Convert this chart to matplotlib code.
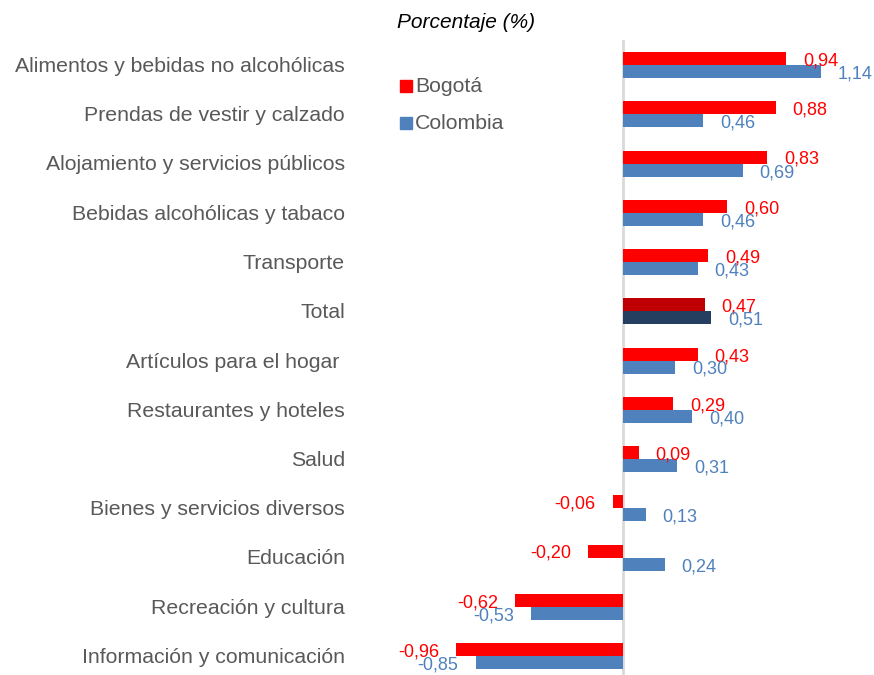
import matplotlib
matplotlib.use("Agg")
import matplotlib.pyplot as plt
from matplotlib.patches import Rectangle

plt.rcParams['font.family'] = ['Liberation Sans', 'DejaVu Sans']

categories = [
    "Alimentos y bebidas no alcohólicas",
    "Prendas de vestir y calzado",
    "Alojamiento y servicios públicos",
    "Bebidas alcohólicas y tabaco",
    "Transporte",
    "Total",
    "Artículos para el hogar ",
    "Restaurantes y hoteles",
    "Salud",
    "Bienes y servicios diversos",
    "Educación",
    "Recreación y cultura",
    "Información y comunicación",
]
bogota = [0.94, 0.88, 0.83, 0.60, 0.49, 0.47, 0.43, 0.29, 0.09, -0.06, -0.20, -0.62, -0.96]
colombia = [1.14, 0.46, 0.69, 0.46, 0.43, 0.51, 0.30, 0.40, 0.31, 0.13, 0.24, -0.53, -0.85]
series_names = ["Bogotá", "Colombia"]

RED = "#FF0000"
BLUE = "#4F81BD"
DARK_RED = "#C00000"
DARK_BLUE = "#243F60"
GRAY_TXT = "#595959"

W, H = 874, 675
fig = plt.figure(figsize=(W / 100, H / 100), dpi=100)

zero_px = 623
px_per_unit = 173.5
xmin, xmax = -1.2, 1.4
left_px = zero_px + xmin * px_per_unit
width_px = (xmax - xmin) * px_per_unit
row_h = 49.25
top_px = 65 - row_h / 2
bot_px = top_px + row_h * len(categories)
ax = fig.add_axes([left_px / W, 1 - bot_px / H, width_px / W, (bot_px - top_px) / H])
ax.set_xlim(xmin, xmax)
ax.set_ylim(len(categories) - 0.5, -0.5)
ax.axis('off')

bh = 13 / row_h
ys = list(range(len(categories)))
red_cols = [DARK_RED if c == "Total" else RED for c in categories]
blue_cols = [DARK_BLUE if c == "Total" else BLUE for c in categories]
ax.barh([y - bh / 2 for y in ys], bogota, height=bh, color=red_cols, zorder=3)
ax.barh([y + bh / 2 for y in ys], colombia, height=bh, color=blue_cols, zorder=3)
ax.axvline(0, color="#D9D9D9", lw=2, zorder=2)

def fmt(v):
    return f"{v:.2f}".replace(".", ",")

off = 17
for y, b, c in zip(ys, bogota, colombia):
    for v, yy, col in ((b, y - bh / 2, RED), (c, y + bh / 2, BLUE)):
        ax.annotate(fmt(v), xy=(v, yy), xycoords='data',
                    xytext=(off if v >= 0 else -off, -2.5), textcoords='offset pixels',
                    ha='left' if v >= 0 else 'right', va='center',
                    fontsize=13, color=col, zorder=4)

for y, cat in zip(ys, categories):
    ax.annotate(cat, xy=(345, y), xycoords=('figure pixels', 'data'),
                xytext=(0, -7), textcoords='offset pixels',
                ha='right', va='baseline', fontsize=15.3, color=GRAY_TXT)

fig.text(466 / W, 1 - 22 / H, "Porcentaje (%)", ha='center', va='center',
         fontsize=15, fontstyle='italic', color='black')

# legend
for name, col, base in ((series_names[0], RED, 92), (series_names[1], BLUE, 129)):
    fig.patches.append(Rectangle((400 / W, 1 - base / H), 12 / W, 12 / H,
                                 transform=fig.transFigure, color=col, figure=fig))
    fig.text(415 / W, 1 - base / H, name, ha='left', va='baseline',
             fontsize=15.3, color=GRAY_TXT)

fig.savefig("out.png", dpi=100, facecolor='white')
